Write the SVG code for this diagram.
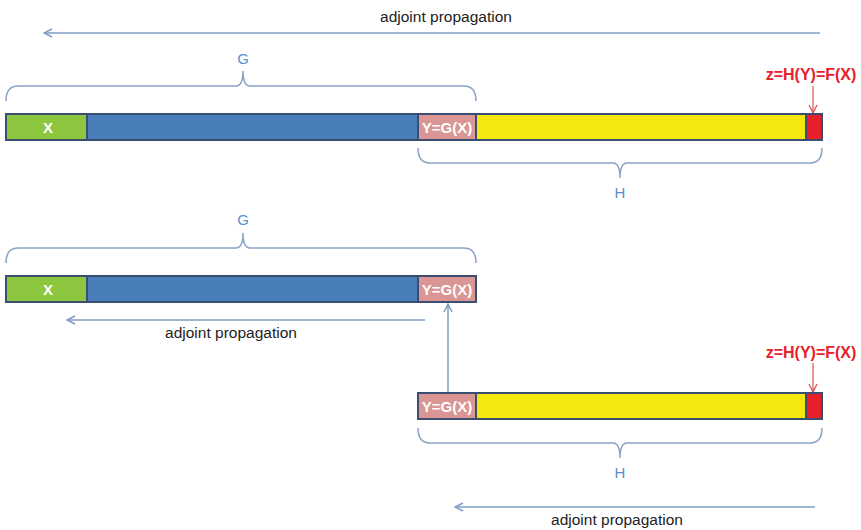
<svg xmlns="http://www.w3.org/2000/svg" width="861" height="530" viewBox="0 0 861 530">
<defs>
<style>
.bar{stroke:#3b4d70;stroke-width:2}
.green{fill:#8dc63f}
.blue{fill:#4a7ebb}
.pink{fill:#d99694}
.yellow{fill:#f4e80f}
.red{fill:#e8202a}
.lbl{font-family:"Liberation Sans",Arial,sans-serif;font-weight:bold;font-size:15px;fill:#ffffff;text-anchor:middle}
.zl{font-family:"Liberation Sans",Arial,sans-serif;font-weight:bold;font-size:16px;fill:#e8202a;text-anchor:middle}
.ap{font-family:"Liberation Sans",Arial,sans-serif;font-size:15.5px;fill:#222222;text-anchor:middle}
.gh{font-family:"Liberation Sans",Arial,sans-serif;font-size:15px;fill:#5b8fd0;text-anchor:middle}
.brace{fill:none;stroke:#8aa2c8;stroke-width:1.5}
.conn{fill:none;stroke:#7f9cc6;stroke-width:1.5}
.rconn{fill:none;stroke:#d9534f;stroke-width:1.2}
</style>
<marker id="ah" viewBox="0 0 10 10" refX="9" refY="5" markerWidth="10" markerHeight="10" markerUnits="userSpaceOnUse" orient="auto">
<path d="M1,1 L9,5 L1,9" fill="none" stroke="#7f9cc6" stroke-width="1.5"/>
</marker>
<marker id="rah" viewBox="0 0 10 10" refX="9" refY="5" markerWidth="10" markerHeight="10" markerUnits="userSpaceOnUse" orient="auto">
<path d="M1,1 L9,5 L1,9" fill="none" stroke="#d9534f" stroke-width="1.3"/>
</marker>
</defs>
<rect width="861" height="530" fill="#ffffff"/>

<g id="connectors">
<line class="conn" x1="820" y1="33" x2="44" y2="33" marker-end="url(#ah)"/>
<line class="conn" x1="425" y1="320" x2="67" y2="320" marker-end="url(#ah)"/>
<line class="conn" x1="448" y1="393" x2="448" y2="304" marker-end="url(#ah)"/>
<line class="conn" x1="815" y1="507" x2="455" y2="507" marker-end="url(#ah)"/>
<line class="rconn" x1="813" y1="86" x2="813" y2="113" marker-end="url(#rah)"/>
<line class="rconn" x1="813" y1="363" x2="813" y2="392" marker-end="url(#rah)"/>
</g>

<g id="labels">
<text class="ap" x="446" y="22">adjoint propagation</text>
<text class="ap" x="231" y="338">adjoint propagation</text>
<text class="ap" x="617" y="525">adjoint propagation</text>
</g>

<g id="bar1">
<path class="brace" d="M6,101 Q6,86 18,86 L236,86 Q243,86 243,71 Q243,86 250,86 L464,86 Q476,86 476,101"/>
<text class="gh" x="243" y="64">G</text>
<rect class="bar green" x="6" y="114" width="81" height="26"/>
<rect class="bar blue" x="87" y="114" width="331" height="26"/>
<rect class="bar pink" x="418" y="114" width="58" height="26"/>
<rect class="bar yellow" x="476" y="114" width="330" height="26"/>
<rect class="bar red" x="806" y="114" width="16" height="26"/>
<text class="lbl" x="48" y="132.5">X</text>
<text class="lbl" x="447" y="132.5">Y=G(X)</text>
<text class="zl" x="811" y="80">z=H(Y)=F(X)</text>
<path class="brace" d="M418,148 Q418,163 430,163 L613,163 Q620,163 620,178 Q620,163 627,163 L810,163 Q822,163 822,148"/>
<text class="gh" x="620" y="198">H</text>
</g>

<g id="bar2">
<path class="brace" d="M6,263 Q6,248 18,248 L236,248 Q243,248 243,233 Q243,248 250,248 L464,248 Q476,248 476,263"/>
<text class="gh" x="243" y="225">G</text>
<rect class="bar green" x="6" y="276" width="81" height="26"/>
<rect class="bar blue" x="87" y="276" width="331" height="26"/>
<rect class="bar pink" x="418" y="276" width="58" height="26"/>
<text class="lbl" x="48" y="294.5">X</text>
<text class="lbl" x="447" y="294.5">Y=G(X)</text>
</g>

<g id="bar3">
<text class="zl" x="811" y="358">z=H(Y)=F(X)</text>
<rect class="bar pink" x="418" y="393" width="58" height="26"/>
<rect class="bar yellow" x="476" y="393" width="330" height="26"/>
<rect class="bar red" x="806" y="393" width="16" height="26"/>
<text class="lbl" x="447" y="411.5">Y=G(X)</text>
<path class="brace" d="M418,428 Q418,443 430,443 L613,443 Q620,443 620,458 Q620,443 627,443 L810,443 Q822,443 822,428"/>
<text class="gh" x="620" y="478">H</text>
</g>
</svg>
